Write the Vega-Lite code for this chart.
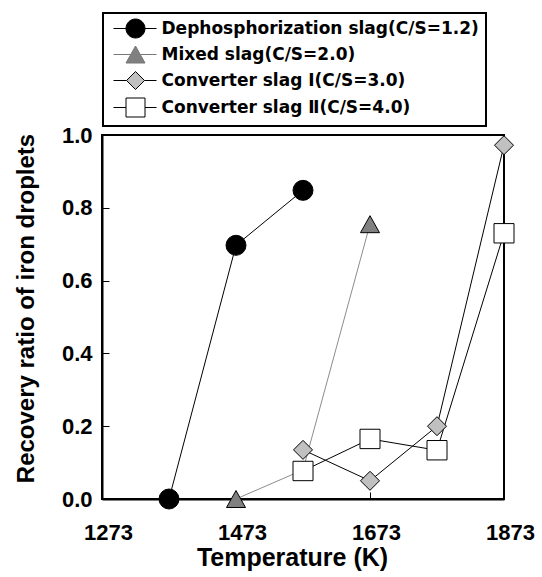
{
  "$schema": "https://vega.github.io/schema/vega-lite/v6.json",
  "width": 402,
  "height": 364,
  "autosize": {"type": "none"},
  "padding": {"left": 102, "top": 135, "right": 38, "bottom": 78},
  "background": "white",
  "config": {
    "font": "Liberation Sans",
    "view": {"stroke": "black", "strokeWidth": 2},
    "axis": {
      "grid": false,
      "domainColor": "black",
      "domainWidth": 2,
      "tickColor": "black",
      "tickWidth": 1,
      "tickSize": -7,
      "labelFlush": false,
      "labelFont": "Liberation Sans",
      "labelFontSize": 22,
      "labelFontWeight": "bold",
      "labelColor": "black",
      "titleFont": "Liberation Sans",
      "titleFontWeight": "bold",
      "titleColor": "black"
    },
    "legend": {
      "labelFont": "DejaVu Sans",
      "labelFontSize": 17,
      "labelFontWeight": "bold",
      "labelColor": "black",
      "labelLimit": 500,
      "strokeWidth": 2
    }
  },
  "data": {
    "values": [
      {"series": "Mixed slag(C/S=2.0)", "temperature": 1473, "recovery": 0.0},
      {"series": "Mixed slag(C/S=2.0)", "temperature": 1573, "recovery": 0.08},
      {"series": "Mixed slag(C/S=2.0)", "temperature": 1673, "recovery": 0.755},
      {"series": "Dephosphorization slag(C/S=1.2)", "temperature": 1373, "recovery": 0.0},
      {"series": "Dephosphorization slag(C/S=1.2)", "temperature": 1473, "recovery": 0.697},
      {"series": "Dephosphorization slag(C/S=1.2)", "temperature": 1573, "recovery": 0.848},
      {"series": "Converter slag Ⅰ(C/S=3.0)", "temperature": 1573, "recovery": 0.135},
      {"series": "Converter slag Ⅰ(C/S=3.0)", "temperature": 1673, "recovery": 0.05},
      {"series": "Converter slag Ⅰ(C/S=3.0)", "temperature": 1773, "recovery": 0.2},
      {"series": "Converter slag Ⅰ(C/S=3.0)", "temperature": 1873, "recovery": 0.972},
      {"series": "Converter slag Ⅱ(C/S=4.0)", "temperature": 1573, "recovery": 0.077},
      {"series": "Converter slag Ⅱ(C/S=4.0)", "temperature": 1673, "recovery": 0.165},
      {"series": "Converter slag Ⅱ(C/S=4.0)", "temperature": 1773, "recovery": 0.134},
      {"series": "Converter slag Ⅱ(C/S=4.0)", "temperature": 1873, "recovery": 0.73}
    ]
  },
  "resolve": {"scale": {"shape": "independent", "fill": "independent", "stroke": "independent"}},
  "layer": [
    {
      "mark": {"type": "line", "strokeWidth": 1},
      "encoding": {
        "x": {
          "field": "temperature", "type": "quantitative",
          "scale": {"domain": [1273, 1873], "nice": false, "zero": false},
          "axis": {
            "values": [1273, 1473, 1673, 1873], "format": "d",
            "labelPadding": 30, "labelOffset": 6,
            "title": "Temperature (K)", "titleFontSize": 25,
            "titleX": 190, "titleY": 66, "titleBaseline": "alphabetic"
          }
        },
        "y": {
          "field": "recovery", "type": "quantitative",
          "scale": {"domain": [0, 1], "nice": false},
          "axis": {
            "values": [0, 0.2, 0.4, 0.6, 0.8, 1.0], "format": ".1f",
            "labelPadding": 17,
            "title": "Recovery ratio of iron droplets", "titleFontSize": 24,
            "titleX": -69, "titleY": 173, "titleBaseline": "alphabetic"
          }
        },
        "detail": {"field": "series"},
        "order": {"field": "temperature"},
        "stroke": {
          "condition": {"test": "datum.series === 'Mixed slag(C/S=2.0)'", "value": "#8c8c8c"},
          "value": "black"
        }
      }
    },
    {
      "mark": {"type": "point", "filled": true, "size": 400, "stroke": "black", "strokeWidth": 1, "opacity": 1},
      "encoding": {
        "x": {"field": "temperature", "type": "quantitative"},
        "y": {"field": "recovery", "type": "quantitative"},
        "fill": {
          "condition": [
            {"test": "datum.series === 'Dephosphorization slag(C/S=1.2)'", "value": "black"},
            {"test": "datum.series === 'Mixed slag(C/S=2.0)'", "value": "#808080"},
            {"test": "datum.series === 'Converter slag Ⅰ(C/S=3.0)'", "value": "#c0c0c0"}
          ],
          "value": "white"
        },
        "shape": {
          "field": "series", "type": "nominal",
          "scale": {
            "domain": ["Dephosphorization slag(C/S=1.2)", "Mixed slag(C/S=2.0)", "Converter slag Ⅰ(C/S=3.0)", "Converter slag Ⅱ(C/S=4.0)"],
            "range": ["circle", "M0,-0.85L0.95,0.85L-0.95,0.85Z", "M0,-0.95L0.95,0L0,0.95L-0.95,0Z", "M-1,-0.97L1,-0.97L1,0.97L-1,0.97Z"]
          },
          "legend": null
        }
      }
    },
    {
      "transform": [{"filter": "datum.recovery < 0"}],
      "mark": {"type": "point", "filled": true, "size": 100, "stroke": "black", "strokeWidth": 1, "opacity": 1},
      "encoding": {
        "x": {"field": "temperature", "type": "quantitative"},
        "y": {"field": "recovery", "type": "quantitative"},
        "fill": {
          "field": "series", "type": "nominal",
          "scale": {
            "domain": ["Dephosphorization slag(C/S=1.2)", "Mixed slag(C/S=2.0)", "Converter slag Ⅰ(C/S=3.0)", "Converter slag Ⅱ(C/S=4.0)"],
            "range": ["black", "#808080", "#c0c0c0", "white"]
          }
        },
        "stroke": {
          "field": "series", "type": "nominal",
          "scale": {
            "domain": ["Dephosphorization slag(C/S=1.2)", "Mixed slag(C/S=2.0)", "Converter slag Ⅰ(C/S=3.0)", "Converter slag Ⅱ(C/S=4.0)"],
            "range": ["black", "#777777", "black", "black"]
          }
        },
        "shape": {
          "field": "series", "type": "nominal",
          "scale": {
            "domain": ["Dephosphorization slag(C/S=1.2)", "Mixed slag(C/S=2.0)", "Converter slag Ⅰ(C/S=3.0)", "Converter slag Ⅱ(C/S=4.0)"],
            "range": [
              "M-4.4,0L-1.9,0M1.9,0L4.2,0M1.9,0C1.9,1.049,1.049,1.9,0,1.9C-1.049,1.9,-1.9,1.049,-1.9,0C-1.9,-1.049,-1.049,-1.9,0,-1.9C1.049,-1.9,1.9,-1.049,1.9,0Z",
              "M-4.4,0L-0.95,0M0.95,0L4.2,0M0,-1.7L1.9,1.7L-1.9,1.7Z",
              "M-4.4,0L-1.8,0M1.8,0L4.2,0M0,-1.8L1.8,0L0,1.8L-1.8,0Z",
              "M-4.4,0L-1.9,0M1.9,0L4.2,0M-1.9,-1.9L1.9,-1.9L1.9,1.9L-1.9,1.9Z"
            ]
          },
          "legend": {
            "title": null,
            "orient": "none",
            "legendX": 1,
            "legendY": -122,
            "padding": 7,
            "rowPadding": 4,
            "symbolSize": 100,
            "symbolOffset": 17,
            "labelOffset": 17.5,
            "symbolStrokeWidth": 1,
            "strokeColor": "black",
            "fillColor": "white"
          }
        }
      }
    }
  ]
}
